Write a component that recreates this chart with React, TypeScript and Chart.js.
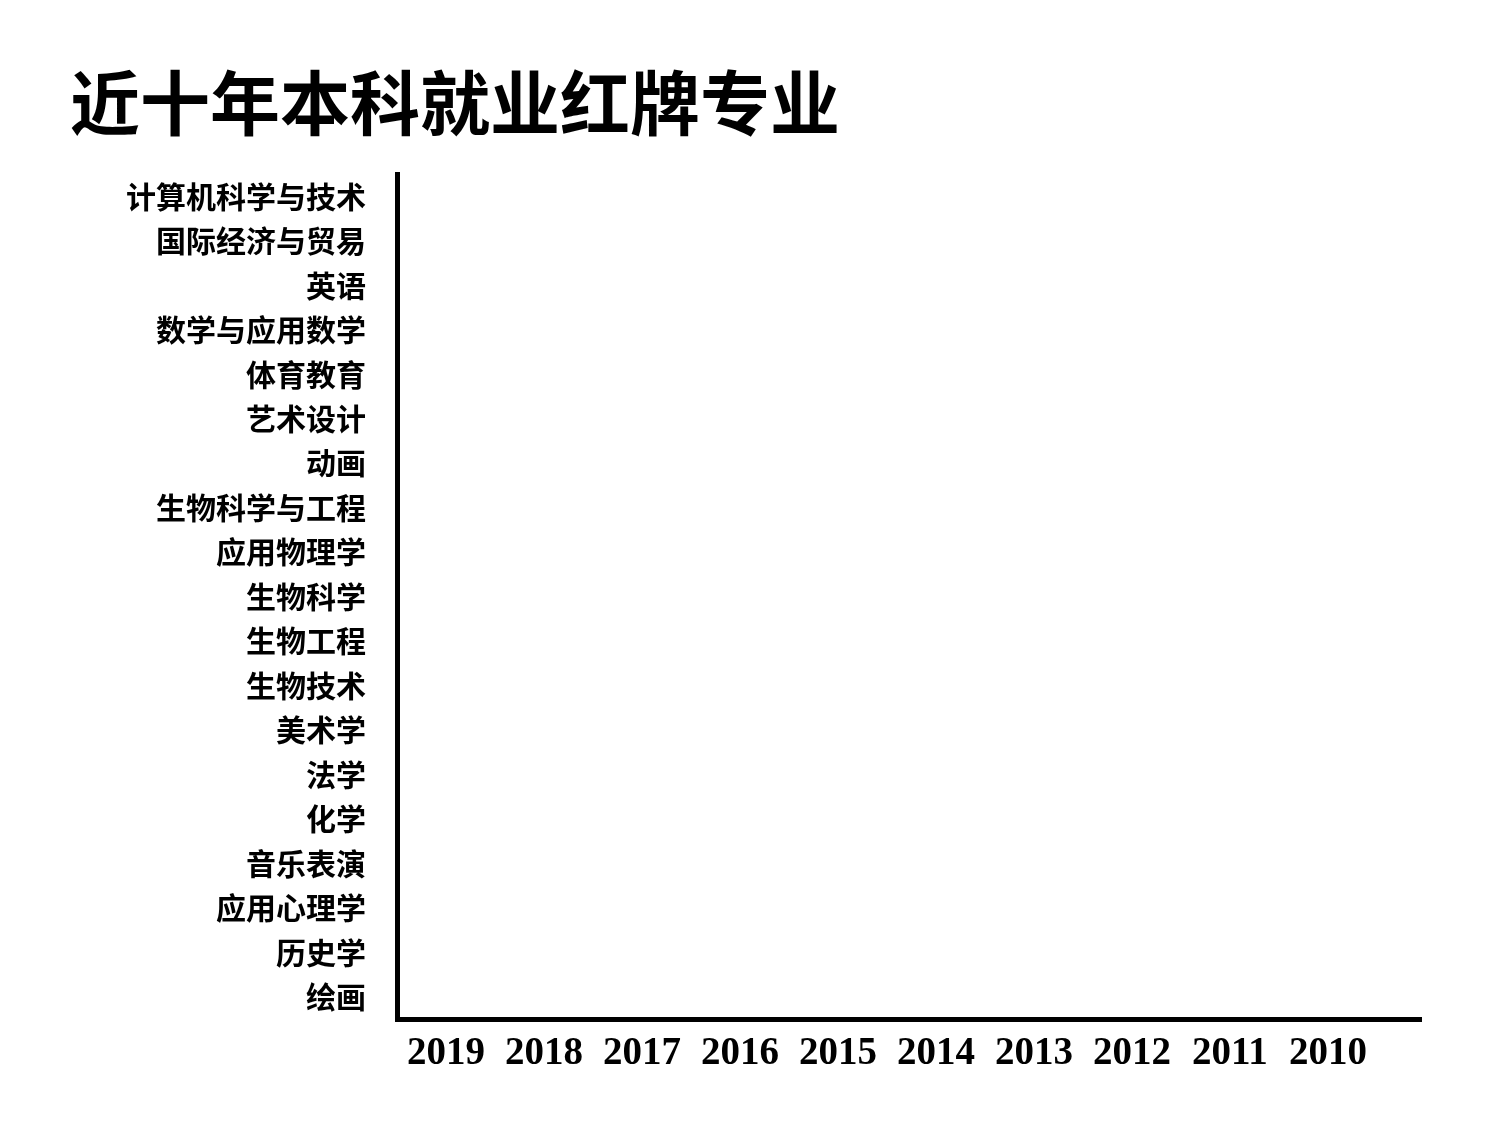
import React, { useEffect, useRef } from "react";
import { Chart, registerables } from "chart.js";

Chart.register(...registerables);

const titleText = "近十年本科就业红牌专业";

const majors: string[] = [
  "计算机科学与技术",
  "国际经济与贸易",
  "英语",
  "数学与应用数学",
  "体育教育",
  "艺术设计",
  "动画",
  "生物科学与工程",
  "应用物理学",
  "生物科学",
  "生物工程",
  "生物技术",
  "美术学",
  "法学",
  "化学",
  "音乐表演",
  "应用心理学",
  "历史学",
  "绘画",
];

const years: string[] = [
  "2019", "2018", "2017", "2016", "2015",
  "2014", "2013", "2012", "2011", "2010",
];

// The reference frame shows no bars yet (empty state)
const values: (number | null)[] = [
  null, null, null, null, null, null, null, null, null, null,
  null, null, null, null, null, null, null, null, null,
];

const CJK = "'Noto Sans CJK SC', 'Noto Sans', sans-serif";

export default function App() {
  const ref = useRef<HTMLCanvasElement | null>(null);

  useEffect(() => {
    if (!ref.current) return;
    const chart = new Chart(ref.current, {
      type: "bar",
      data: {
        labels: majors,
        datasets: [
          {
            label: "红牌专业",
            data: values,
            backgroundColor: "#c0392b",
          },
        ],
      },
      options: {
        animation: false,
        responsive: false,
        indexAxis: "y",
        layout: { padding: { left: 70, right: 79, top: 46, bottom: 0 } },
        plugins: {
          legend: { display: false },
          tooltip: { enabled: false },
          title: {
            display: true,
            text: titleText,
            align: "start",
            color: "#000",
            font: { family: CJK, size: 70, weight: "bold", lineHeight: 1.2 },
            padding: { top: 15, bottom: 29 },
          },
        },
        scales: {
          x: {
            type: "linear",
            position: "bottom",
            min: -0.5,
            max: 9.95,
            grid: { display: false, drawTicks: false },
            border: { display: true, color: "#000", width: 5 },
            afterBuildTicks: (scale: any) => {
              scale.ticks = years.map((_, i) => ({ value: i }));
            },
            afterFit: (scale: any) => {
              scale.height = 102;
            },
            ticks: {
              color: "#000",
              padding: 12,
              maxRotation: 0,
              autoSkip: false,
              font: { family: "'Liberation Serif', serif", size: 39, weight: "bold" },
              callback: (v: any) => years[Math.round(Number(v))] ?? "",
            },
          },
          y: {
            type: "category",
            position: "left",
            grid: { display: false, drawTicks: false },
            border: { display: true, color: "#000", width: 5 },
            afterFit: (scale: any) => {
              scale.width = 327;
            },
            ticks: {
              color: "#000",
              padding: 31,
              autoSkip: false,
              font: { family: CJK, size: 30, weight: "bold" },
            },
          },
        },
      },
    });
    return () => chart.destroy();
  }, []);

  return (
    <div style={{ position: "fixed", left: 0, top: 0, width: 1500, height: 1121, background: "#fff" }}>
      <canvas ref={ref} width={1500} height={1121} style={{ width: 1500, height: 1121 }} />
    </div>
  );
}
